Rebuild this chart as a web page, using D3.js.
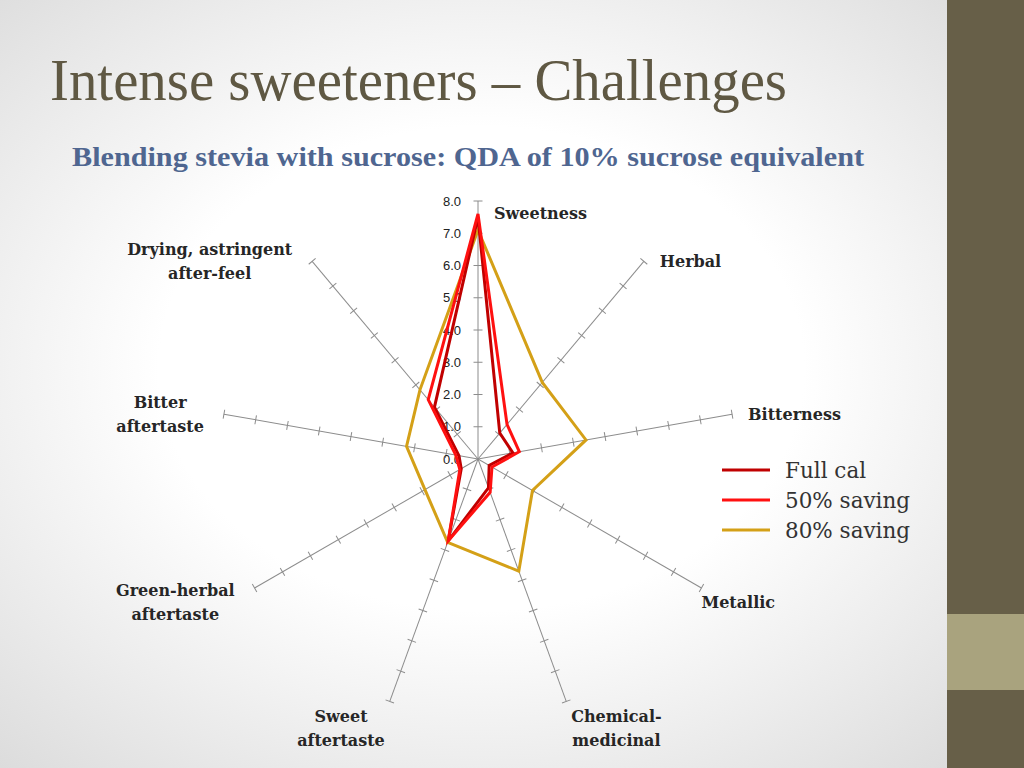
<!DOCTYPE html>
<html>
<head>
<meta charset="utf-8">
<script src="https://cdn.jsdelivr.net/npm/d3@7"></script>
<style>
  html, body { margin: 0; padding: 0; }
  body { width: 1024px; height: 768px; overflow: hidden; }
</style>
</head>
<body>
<div id="chart"></div>
<script>
// Chart data
const attributes = ["Sweetness", "Herbal", "Bitterness", "Metallic", "Chemical-\nmedicinal",
  "Sweet\naftertaste", "Green-herbal\naftertaste", "Bitter\naftertaste", "Drying, astringent\nafter-feel"];
const seriesNames = ["Full cal", "50% saving", "80% saving"];
const fullCal = [7.5, 1.05, 1.1, 0.4, 0.95, 2.7, 0.6, 0.6, 2.1];
const saving50 = [7.6, 1.4, 1.3, 0.5, 1.1, 2.7, 0.65, 0.7, 2.4];
const saving80 = [7.1, 3.1, 3.4, 1.95, 3.7, 2.75, 1.9, 2.25, 2.8];
const tickValues = [0, 1, 2, 3, 4, 5, 6, 7, 8];

const width = 1024;
const height = 768;
const cx = 478;
const cy = 459;
const colors = ["#c00000", "#ff1010", "#d4a017"];

const svg = d3.select("#chart")
  .append("svg")
  .attr("width", width)
  .attr("height", height)
  .style("font-family", "'DejaVu Serif', serif");

// background: soft radial grey like the slide theme
const defs = svg.append("defs");
const grad = defs.append("radialGradient")
  .attr("id", "bg")
  .attr("cx", "47%").attr("cy", "48%").attr("r", "70%");
grad.append("stop").attr("offset", "45%").attr("stop-color", "#ffffff");
grad.append("stop").attr("offset", "100%").attr("stop-color", "#dcdcdc");

svg.append("rect")
  .attr("width", width).attr("height", height)
  .attr("fill", "url(#bg)");

// right side bar
svg.append("rect")
  .attr("x", 947).attr("y", 0).attr("width", 77).attr("height", height)
  .attr("fill", "#675f48");
svg.append("rect")
  .attr("x", 947).attr("y", 614).attr("width", 77).attr("height", 76)
  .attr("fill", "#a9a37e");

// titles (condensed serif in the original, squeezed to the same width)
svg.append("text")
  .attr("x", 50).attr("y", 100)
  .style("font-family", "'Liberation Serif', serif")
  .style("font-size", "59px")
  .style("fill", "#5f5843")
  .attr("textLength", 737)
  .attr("lengthAdjust", "spacingAndGlyphs")
  .text("Intense sweeteners – Challenges");

svg.append("text")
  .attr("x", 72).attr("y", 166)
  .style("font-family", "'Liberation Serif', serif")
  .style("font-size", "28px")
  .style("font-weight", "bold")
  .style("fill", "#4f6690")
  .attr("textLength", 792)
  .attr("lengthAdjust", "spacingAndGlyphs")
  .text("Blending stevia with sucrose: QDA of 10% sucrose equivalent");

// radar scales
const r = d3.scaleLinear().domain([0, 8]).range([0, 258]);
const angle = d3.scaleLinear().domain([0, attributes.length]).range([0, 2 * Math.PI]);

const g = svg.append("g")
  .attr("transform", "translate(" + cx + "," + cy + ")");

function point(i, v) {
  const a = angle(i);
  return [Math.sin(a) * r(v), -Math.cos(a) * r(v)];
}

// axes with tick marks
const axis = g.selectAll(".axis")
  .data(attributes)
  .enter()
  .append("g")
  .attr("class", "axis")
  .attr("transform", function(d, i) { return "rotate(" + (angle(i) * 180 / Math.PI) + ")"; });

axis.append("line")
  .attr("x1", 0).attr("y1", 0)
  .attr("x2", 0).attr("y2", -r(8))
  .attr("stroke", "#8c8c8c")
  .attr("stroke-width", 1);

axis.selectAll(".tick")
  .data(tickValues.slice(1))
  .enter()
  .append("line")
  .attr("x1", -4.5).attr("x2", 4.5)
  .attr("y1", function(d) { return -r(d); })
  .attr("y2", function(d) { return -r(d); })
  .attr("stroke", "#8c8c8c")
  .attr("stroke-width", 1);

// value labels on sweetness axis
g.selectAll(".tickLabel")
  .data(tickValues)
  .enter()
  .append("text")
  .attr("class", "tickLabel")
  .attr("x", -17)
  .attr("y", function(d) { return -r(d); })
  .attr("dy", "0.35em")
  .attr("text-anchor", "end")
  .style("font-family", "'Liberation Sans', sans-serif")
  .style("font-size", "13px")
  .style("fill", "#222")
  .text(function(d) { return d.toFixed(1); });

// series polygons
const line = d3.lineRadial()
  .angle(function(d, i) { return angle(i); })
  .radius(function(d) { return r(d); })
  .curve(d3.curveLinearClosed);

const series = [saving80, fullCal, saving50];
const seriesColor = [colors[2], colors[0], colors[1]];

g.selectAll(".series")
  .data(series)
  .enter()
  .append("path")
  .attr("class", "series")
  .attr("d", line)
  .attr("fill", "none")
  .attr("stroke", function(d, i) { return seriesColor[i]; })
  .attr("stroke-width", 3)
  .attr("stroke-linejoin", "miter");

// attribute labels, placed beside the end of each axis
const labels = g.selectAll(".attrLabel")
  .data(attributes)
  .enter()
  .append("text")
  .attr("class", "attrLabel")
  .attr("text-anchor", "middle")
  .style("font-size", "16px")
  .style("font-weight", "bold")
  .style("fill", "#262626");

labels.each(function(d, i) {
  const el = d3.select(this);
  const lines = d.split("\n");
  lines.forEach(function(t) {
    el.append("tspan").text(t);
  });
  const w = d3.max(el.selectAll("tspan").nodes(), function(n) { return n.getComputedTextLength(); });
  const end = point(i, 8);
  const a = angle(i);
  const dx = Math.sin(a);
  const down = -Math.cos(a);
  const side = dx >= -0.01 ? 1 : -1;
  let gap = side > 0 ? (down > 0.2 ? 0 : 16) : 20;
  if (down > 0.9) gap = 5;
  let shift = down > 0 ? 28 * down : 0;
  if (down < -0.95) shift = 12;
  const lx = end[0] + side * (w / 2 + gap);
  const ly = end[1] + shift - (lines.length - 1) * 12 + 6;
  el.selectAll("tspan")
    .attr("x", lx)
    .attr("y", function(t, j) { return ly + j * 24; });
});

// legend
const legend = svg.selectAll(".legend")
  .data(seriesNames)
  .enter()
  .append("g")
  .attr("class", "legend")
  .attr("transform", function(d, i) { return "translate(722," + (470 + i * 30) + ")"; });

legend.append("line")
  .attr("x1", 0).attr("x2", 48)
  .attr("stroke", function(d, i) { return colors[i]; })
  .attr("stroke-width", 3);

legend.append("text")
  .attr("x", 63)
  .attr("dy", "0.35em")
  .style("font-size", "21.5px")
  .style("fill", "#333")
  .text(function(d) { return d; });
</script>
</body>
</html>
